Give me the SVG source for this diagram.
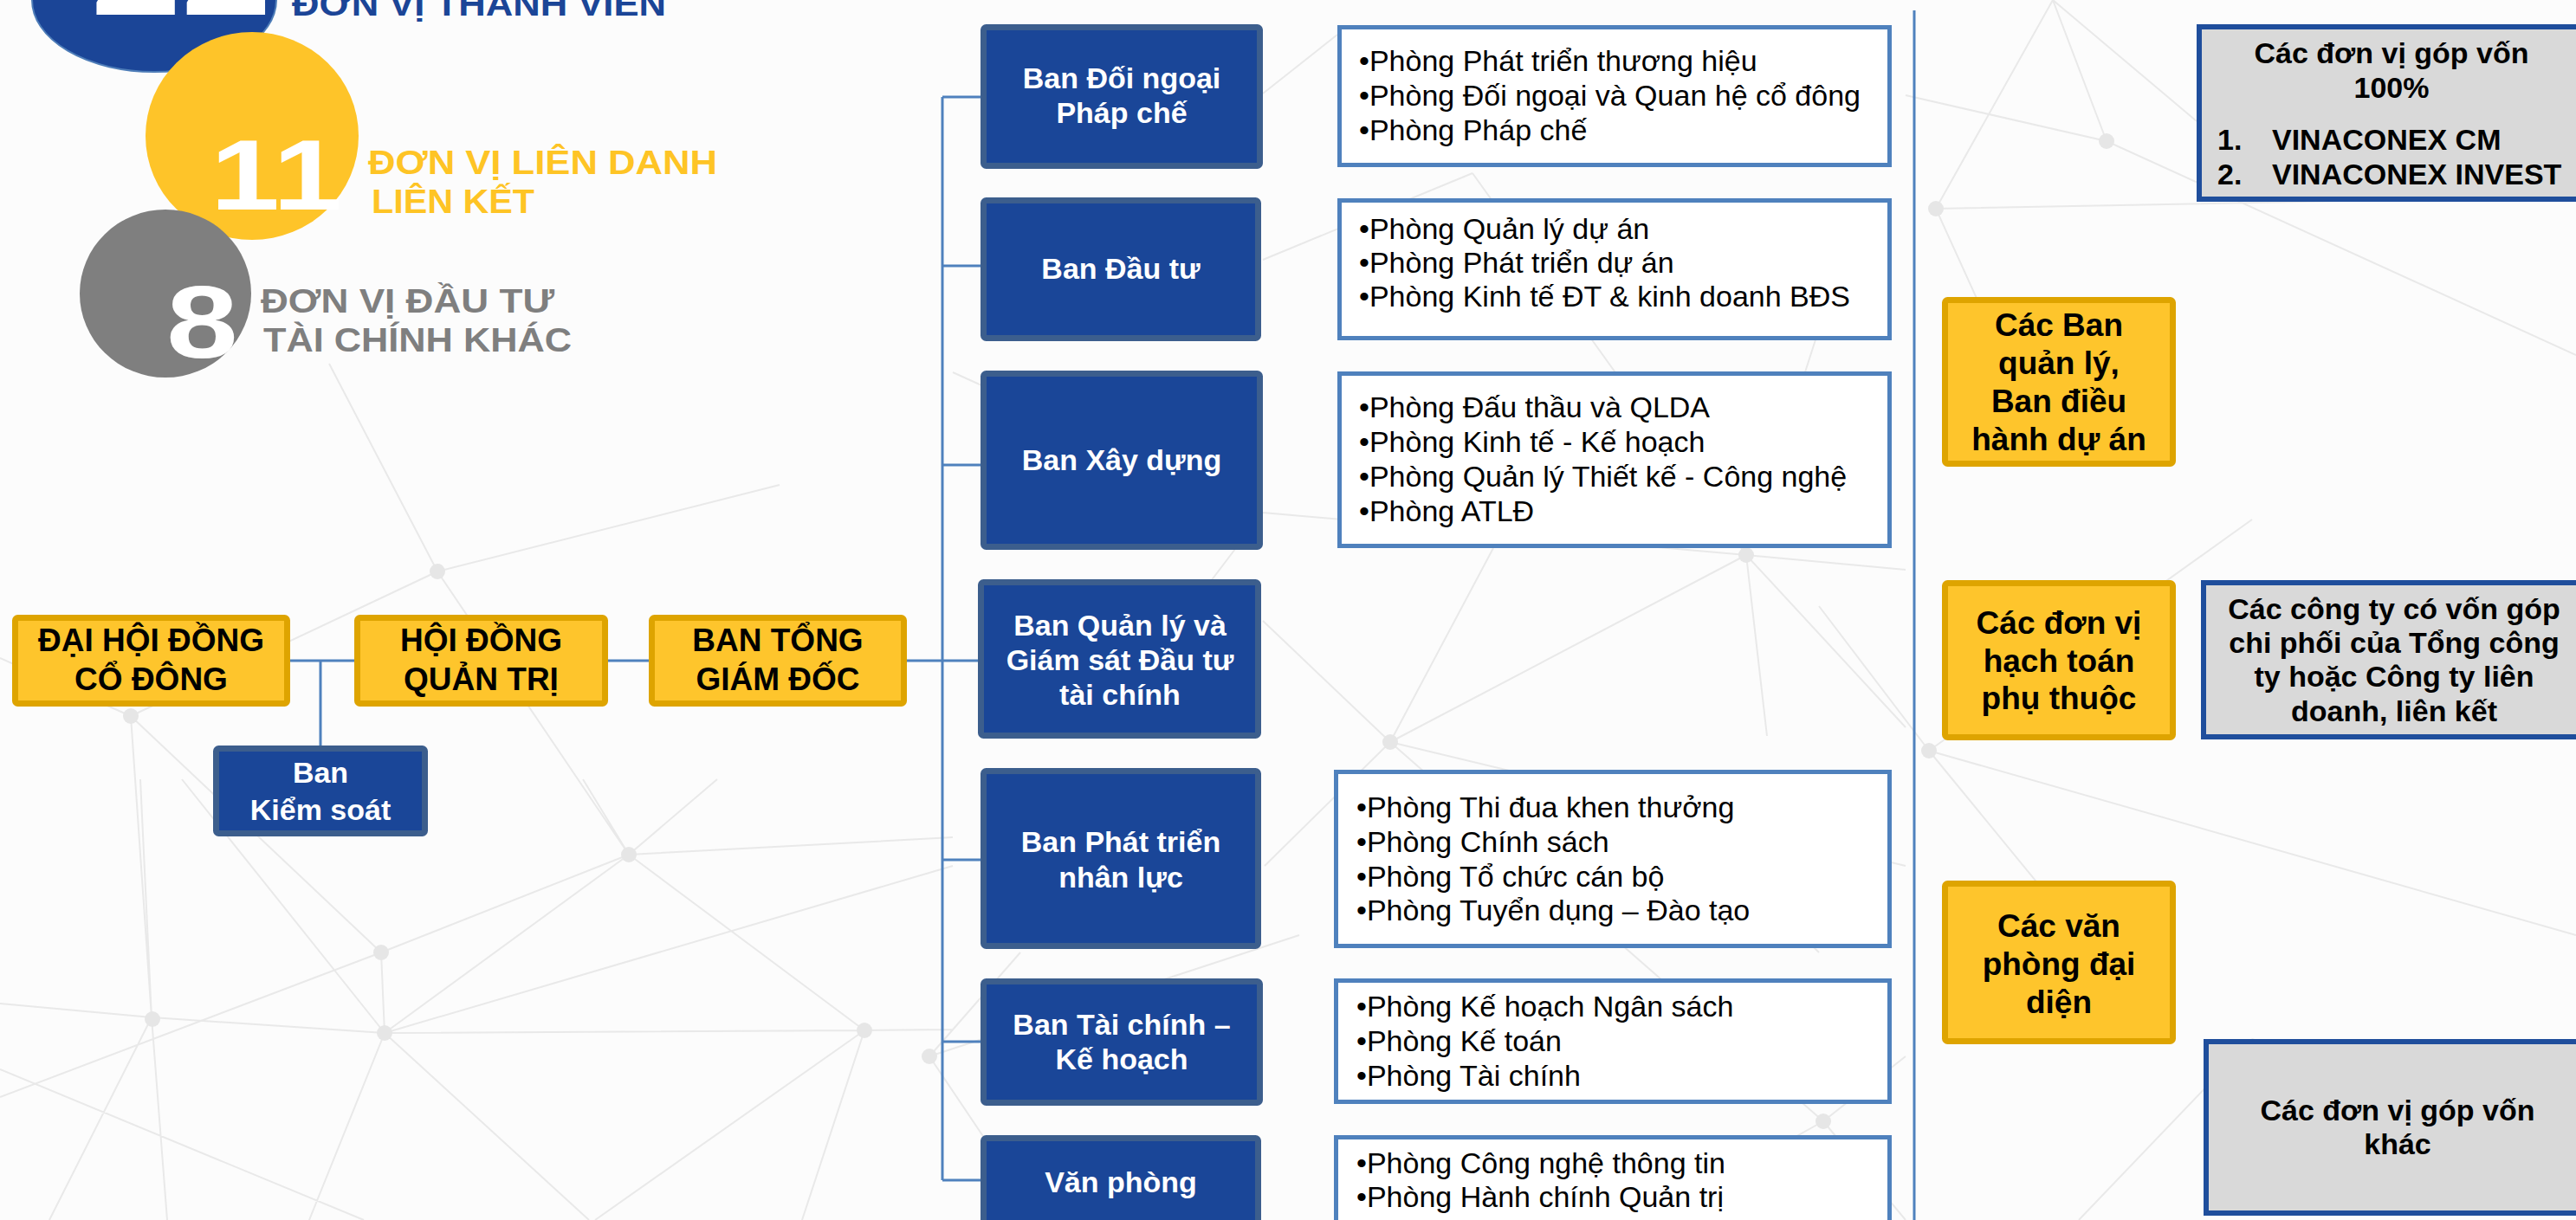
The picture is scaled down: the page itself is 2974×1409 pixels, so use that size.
<svg xmlns="http://www.w3.org/2000/svg" width="2974" height="1409" viewBox="0 0 2974 1409">
<style>
text{font-family:"Liberation Sans",Arial,sans-serif}
.bg{stroke:#e9e9e9;stroke-width:2;fill:none}
.dot{fill:#e6e6e6}
.yb{fill:#fec52c;stroke:#dea400;stroke-width:7}
.bb{fill:#1a4698;stroke:#3c5e8d;stroke-width:7}
.lb{fill:#ffffff;stroke:#4f81bd;stroke-width:5}
.gb{fill:#d9d9d9;stroke:#1f4e9c;stroke-width:6}
.con{stroke:#4f81bd;stroke-width:3;fill:none}
.yt{font-size:37px;font-weight:bold;fill:#000;text-anchor:middle}
.bt{font-size:34px;font-weight:bold;fill:#fff;text-anchor:middle}
.lt{font-size:34px;fill:#000}
.gt{font-size:34px;font-weight:bold;fill:#000;text-anchor:middle}
.gl{font-size:34px;font-weight:bold;fill:#000}
</style>
<rect x="0" y="0" width="2974" height="1409" fill="#fcfcfc"/>
<g id="background">
<path class="bg" d="M0 1159L175 1175L444 1193L998 1190L1100 1189M444 1193L1100 1000M444 1193L726 987M440 1100L444 1193M175 1175L162 900M175 1175L193 1409M175 1175L57 1409M444 1193L357 1409M444 1193L680 1409M998 1190L687 1409M998 1190L926 1409M726 987L998 1190M726 987L1100 967M726 987L828 900M726 987L673 900M0 1235L420 1409M210 900L444 1193M440 1100L726 987M0 1267L440 1100M151 827L175 1175M151 827L0 760M151 827L505 660M505 660L726 987M505 660L380 420M505 660L900 560M151 827L440 1100M1458 592L2016 641L2200 658M2016 641L1605 857M2016 641L2200 840M2016 641L2040 850M1605 857L1458 717M1605 857L1724 633M1605 857L2105 1295M1605 857L1460 1000M1605 857L2200 1000M2105 1295L2200 1409M2105 1295L1900 1409M2105 1295L2200 1220M1073 1220L1500 1080M1073 1220L1200 1409M1178 1100L1073 1220M2235 241L2974 227M2235 241L2370 0M2432 163L2370 0M2200 110L2432 163L2974 410M2370 0L2536 140M2235 241L2330 450M2227 867L2974 1080M2227 867L2600 600M2227 867L2500 1200M2227 867L2100 700M2016 641L2100 380M1458 592L1300 800M1900 900L2100 1100M2600 1200L2974 1350M2400 1409L2600 1200M1458 300L1700 200M1700 200L2016 641M1100 430L1458 592M1458 108L1544 40"/>
<circle class="dot" cx="2235" cy="241" r="9"/>
<circle class="dot" cx="2432" cy="163" r="9"/>
<circle class="dot" cx="2016" cy="641" r="9"/>
<circle class="dot" cx="1605" cy="857" r="9"/>
<circle class="dot" cx="2105" cy="1295" r="9"/>
<circle class="dot" cx="2227" cy="867" r="9"/>
<circle class="dot" cx="440" cy="1100" r="9"/>
<circle class="dot" cx="176" cy="1177" r="9"/>
<circle class="dot" cx="444" cy="1193" r="9"/>
<circle class="dot" cx="726" cy="987" r="9"/>
<circle class="dot" cx="998" cy="1190" r="9"/>
<circle class="dot" cx="1073" cy="1220" r="9"/>
<circle class="dot" cx="505" cy="660" r="9"/>
<circle class="dot" cx="151" cy="827" r="9"/>
</g>
<g id="summary">
<ellipse cx="178" cy="0" rx="141" ry="83" fill="#1b4597" stroke="#4e7db8" stroke-width="2"/>
<text transform="translate(105,17) scale(1.25,1)" font-size="150" font-weight="bold" fill="#ffffff">22</text>
<text x="337" y="18" font-size="38" font-weight="bold" fill="#1b4597" textLength="432" lengthAdjust="spacingAndGlyphs">ĐƠN VỊ THÀNH VIÊN</text>
<ellipse cx="291" cy="157" rx="123" ry="120" fill="#fec429"/>
<text transform="translate(243,242) scale(1.25,1)" font-size="115" font-weight="bold" fill="#ffffff">11</text>
<text x="425" y="201" font-size="38" font-weight="bold" fill="#fec425" textLength="403" lengthAdjust="spacingAndGlyphs">ĐƠN VỊ LIÊN DANH</text>
<text x="429" y="246" font-size="38" font-weight="bold" fill="#fec425" textLength="188" lengthAdjust="spacingAndGlyphs">LIÊN KẾT</text>
<ellipse cx="191" cy="339" rx="99" ry="97" fill="#7f7f7f"/>
<text transform="translate(192,413) scale(1.25,1)" font-size="119" font-weight="bold" fill="#ffffff">8</text>
<text x="301" y="361" font-size="38" font-weight="bold" fill="#7f7f7f" textLength="339" lengthAdjust="spacingAndGlyphs">ĐƠN VỊ ĐẦU TƯ</text>
<text x="304" y="406" font-size="38" font-weight="bold" fill="#7f7f7f" textLength="356" lengthAdjust="spacingAndGlyphs">TÀI CHÍNH KHÁC</text>
</g>
<g id="connectors">
<path class="con" d="M335 763H409M370 763V861M702 763H749M1047 763H1129M1088 112V1363M1088 112H1132M1088 307H1132M1088 537H1132M1088 993H1132M1088 1203H1132M1088 1363H1132"/>
<path class="con" d="M2210 12V1409"/>
</g>
<g id="dhdcd"><rect class="yb" x="17.5" y="713.5" width="314" height="99" rx="3"/><text class="yt" x="174.5" y="752">ĐẠI HỘI ĐỒNG</text><text class="yt" x="174.5" y="797">CỔ ĐÔNG</text></g>
<g id="hdqt"><rect class="yb" x="412.5" y="713.5" width="286" height="99" rx="3"/><text class="yt" x="555.5" y="752">HỘI ĐỒNG</text><text class="yt" x="555.5" y="797">QUẢN TRỊ</text></g>
<g id="btgd"><rect class="yb" x="752.5" y="713.5" width="291" height="99" rx="3"/><text class="yt" x="898" y="752">BAN TỔNG</text><text class="yt" x="898" y="797">GIÁM ĐỐC</text></g>
<g id="bks"><rect class="bb" x="249.5" y="864.5" width="241" height="98" rx="3"/><text class="bt" x="370" y="904" font-size="36">Ban</text><text class="bt" x="370" y="947" font-size="36">Kiểm soát</text></g>
<g id="ban-doingoai"><rect class="bb" x="1135.5" y="31.5" width="319" height="160" rx="3"/><text class="bt" x="1295" y="102">Ban Đối ngoại</text><text class="bt" x="1295" y="142">Pháp chế</text></g>
<g id="ban-dautu"><rect class="bb" x="1135.5" y="231.5" width="317" height="159" rx="3"/><text class="bt" x="1294" y="322">Ban Đầu tư</text></g>
<g id="ban-xaydung"><rect class="bb" x="1135.5" y="431.5" width="319" height="200" rx="3"/><text class="bt" x="1295" y="543">Ban Xây dựng</text></g>
<g id="ban-qlgs"><rect class="bb" x="1132.5" y="672.5" width="320" height="177" rx="3"/><text class="bt" x="1293" y="734">Ban Quản lý và</text><text class="bt" x="1293" y="774">Giám sát Đầu tư</text><text class="bt" x="1293" y="814">tài chính</text></g>
<g id="ban-ptnl"><rect class="bb" x="1135.5" y="890.5" width="317" height="202" rx="3"/><text class="bt" x="1294" y="984">Ban Phát triển</text><text class="bt" x="1294" y="1025">nhân lực</text></g>
<g id="ban-tckh"><rect class="bb" x="1135.5" y="1133.5" width="319" height="140" rx="3"/><text class="bt" x="1295" y="1195">Ban Tài chính –</text><text class="bt" x="1295" y="1235">Kế hoạch</text></g>
<g id="vanphong"><rect class="bb" x="1135.5" y="1314.5" width="317" height="120" rx="3"/><text class="bt" x="1294" y="1377">Văn phòng</text></g>
<g id="list-doingoai"><rect class="lb" x="1546.5" y="31.5" width="635" height="159"/><text class="lt" x="1569" y="82">•Phòng Phát triển thương hiệu</text><text class="lt" x="1569" y="122">•Phòng Đối ngoại và Quan hệ cổ đông</text><text class="lt" x="1569" y="162">•Phòng Pháp chế</text></g>
<g id="list-dautu"><rect class="lb" x="1546.5" y="231.5" width="635" height="159"/><text class="lt" x="1569" y="276">•Phòng Quản lý dự án</text><text class="lt" x="1569" y="315">•Phòng Phát triển dự án</text><text class="lt" x="1569" y="354">•Phòng Kinh tế ĐT &amp; kinh doanh BĐS</text></g>
<g id="list-xaydung"><rect class="lb" x="1546.5" y="431.5" width="635" height="199"/><text class="lt" x="1569" y="482">•Phòng Đấu thầu và QLDA</text><text class="lt" x="1569" y="522">•Phòng Kinh tế - Kế hoạch</text><text class="lt" x="1569" y="562">•Phòng Quản lý Thiết kế - Công nghệ</text><text class="lt" x="1569" y="602">•Phòng ATLĐ</text></g>
<g id="list-ptnl"><rect class="lb" x="1542.5" y="891.5" width="639" height="201"/><text class="lt" x="1566" y="944">•Phòng Thi đua khen thưởng</text><text class="lt" x="1566" y="984">•Phòng Chính sách</text><text class="lt" x="1566" y="1024">•Phòng Tổ chức cán bộ</text><text class="lt" x="1566" y="1063">•Phòng Tuyển dụng – Đào tạo</text></g>
<g id="list-tckh"><rect class="lb" x="1542.5" y="1132.5" width="639" height="140"/><text class="lt" x="1566" y="1174">•Phòng Kế hoạch Ngân sách</text><text class="lt" x="1566" y="1214">•Phòng Kế toán</text><text class="lt" x="1566" y="1254">•Phòng Tài chính</text></g>
<g id="list-vanphong"><rect class="lb" x="1542.5" y="1313.5" width="639" height="140"/><text class="lt" x="1566" y="1355">•Phòng Công nghệ thông tin</text><text class="lt" x="1566" y="1394">•Phòng Hành chính Quản trị</text></g>
<g id="cac-ban-ql"><rect class="yb" x="2245.5" y="346.5" width="263" height="189" rx="3"/><text class="yt" x="2377" y="388">Các Ban</text><text class="yt" x="2377" y="432">quản lý,</text><text class="yt" x="2377" y="476">Ban điều</text><text class="yt" x="2377" y="520">hành dự án</text></g>
<g id="hach-toan"><rect class="yb" x="2245.5" y="673.5" width="263" height="178" rx="3"/><text class="yt" x="2377" y="732">Các đơn vị</text><text class="yt" x="2377" y="776">hạch toán</text><text class="yt" x="2377" y="819">phụ thuộc</text></g>
<g id="van-phong-dd"><rect class="yb" x="2245.5" y="1020.5" width="263" height="182" rx="3"/><text class="yt" x="2377" y="1082">Các văn</text><text class="yt" x="2377" y="1126">phòng đại</text><text class="yt" x="2377" y="1170">diện</text></g>
<g id="gop-von-100"><rect class="gb" x="2539" y="31" width="460" height="199"/><text class="gt" x="2761" y="73">Các đơn vị góp vốn</text><text class="gt" x="2761" y="113">100%</text><text class="gl" x="2560" y="173">1.</text><text class="gl" x="2623" y="173">VINACONEX CM</text><text class="gl" x="2560" y="213">2.</text><text class="gl" x="2623" y="213">VINACONEX INVEST</text></g>
<g id="chi-phoi"><rect class="gb" x="2544" y="673" width="460" height="178"/><text class="gt" x="2764" y="715">Các công ty có vốn góp</text><text class="gt" x="2764" y="754">chi phối của Tổng công</text><text class="gt" x="2764" y="793">ty hoặc Công ty liên</text><text class="gt" x="2764" y="833">doanh, liên kết</text></g>
<g id="gop-von-khac"><rect class="gb" x="2547" y="1203" width="460" height="198"/><text class="gt" x="2768" y="1294">Các đơn vị góp vốn</text><text class="gt" x="2768" y="1333">khác</text></g>
</svg>
